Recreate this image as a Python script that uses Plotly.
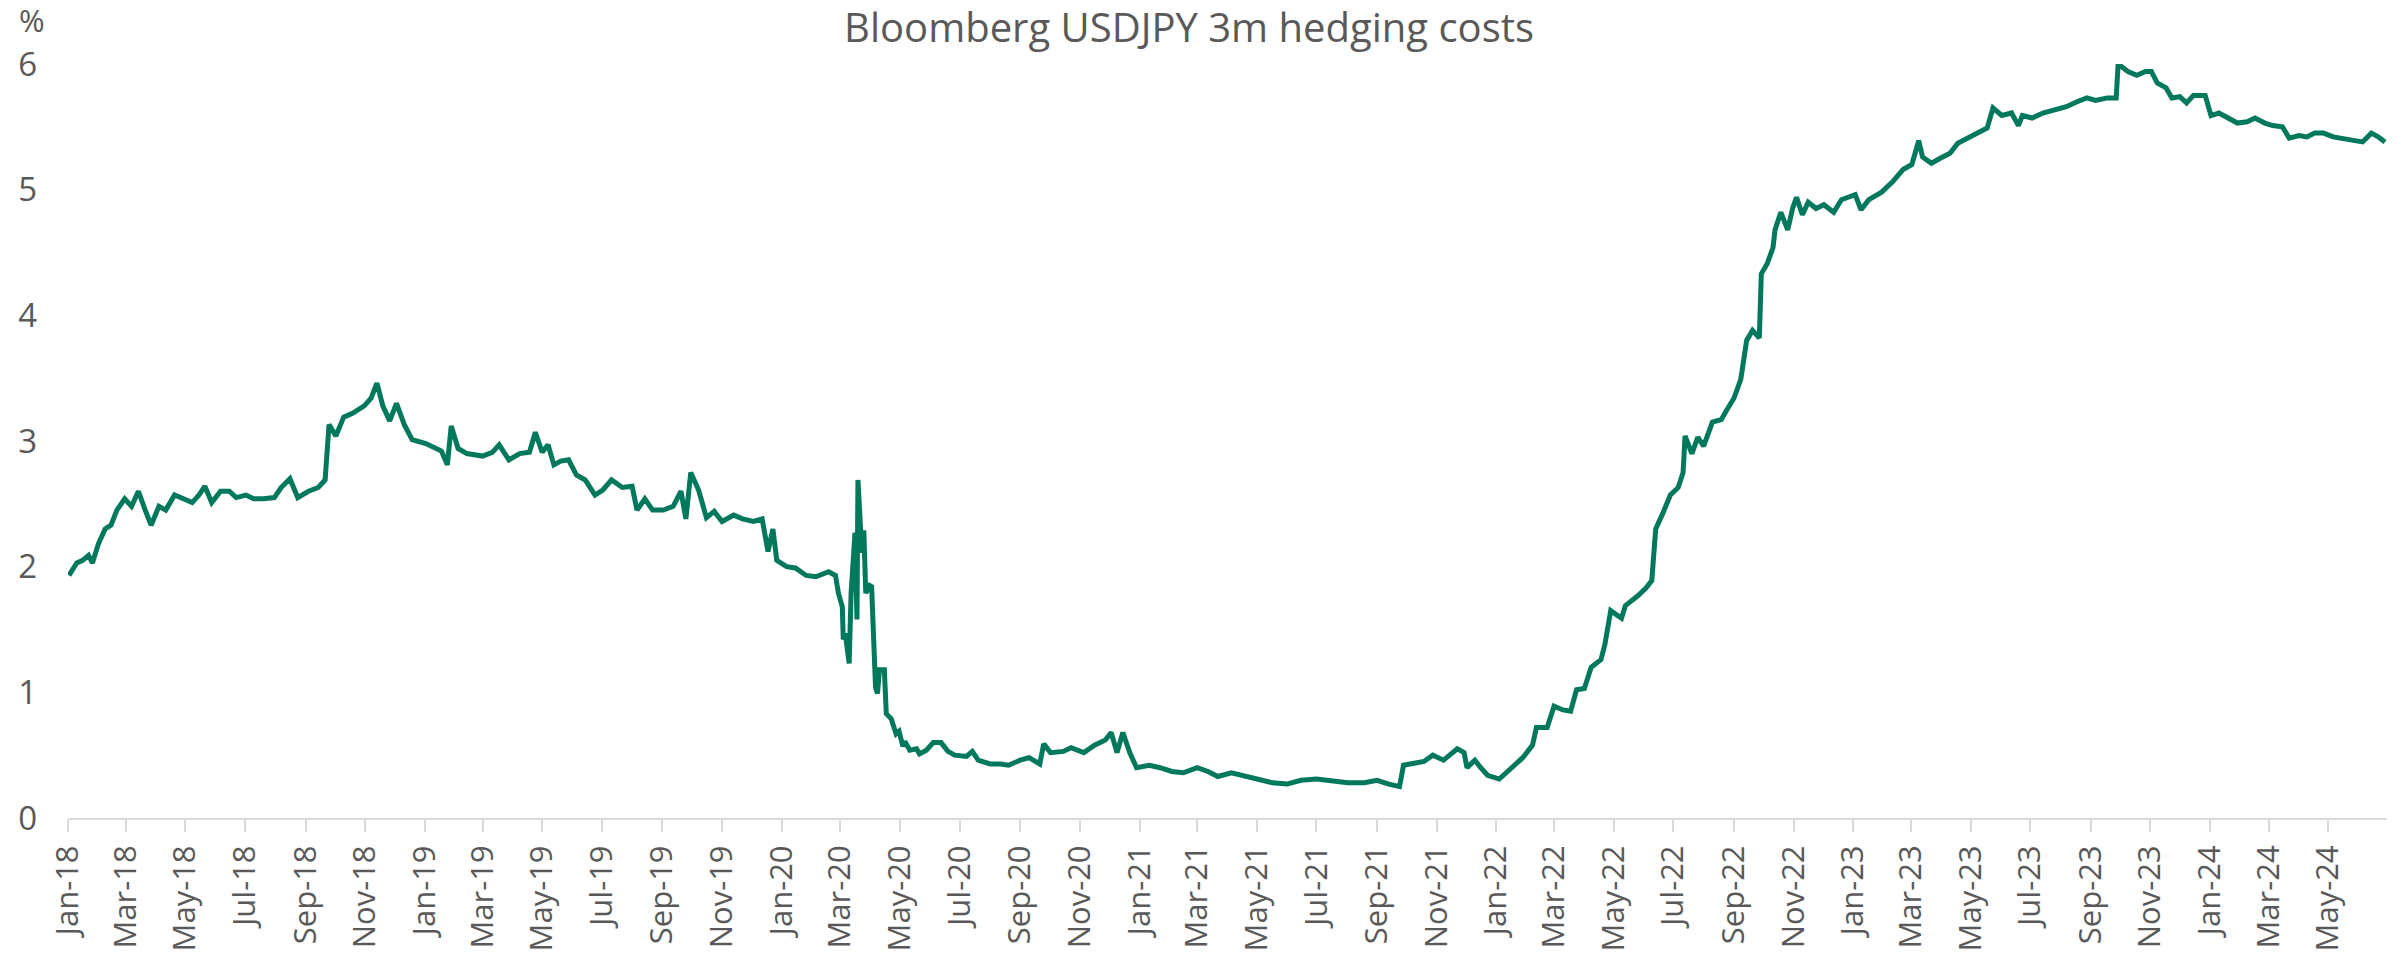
import plotly.graph_objects as go

dates = [
    # 2018
    "2018-01-02","2018-01-05","2018-01-10","2018-01-16","2018-01-22","2018-01-26","2018-02-01","2018-02-08",
    "2018-02-14","2018-02-20","2018-02-28","2018-03-07","2018-03-14","2018-03-21","2018-03-27","2018-04-04",
    "2018-04-11","2018-04-20","2018-04-30","2018-05-08","2018-05-15","2018-05-21","2018-05-28","2018-06-06",
    "2018-06-15","2018-06-22","2018-07-02","2018-07-10","2018-07-20","2018-07-31","2018-08-07","2018-08-16",
    "2018-08-24","2018-09-04","2018-09-14","2018-09-21","2018-09-25","2018-10-02","2018-10-10","2018-10-19",
    "2018-10-31","2018-11-07","2018-11-13","2018-11-19","2018-11-26","2018-12-03","2018-12-11","2018-12-19",
    # 2019
    "2019-01-02","2019-01-09","2019-01-18","2019-01-24","2019-01-28","2019-02-04","2019-02-13","2019-03-01",
    "2019-03-11","2019-03-18","2019-03-28","2019-04-08","2019-04-18","2019-04-24","2019-05-01","2019-05-07",
    "2019-05-13","2019-05-20","2019-05-28","2019-06-05","2019-06-14","2019-06-24","2019-07-02","2019-07-11",
    "2019-07-22","2019-08-01","2019-08-06","2019-08-14","2019-08-22","2019-09-02","2019-09-12","2019-09-20",
    "2019-09-25","2019-09-30","2019-10-08","2019-10-16","2019-10-24","2019-11-01","2019-11-13","2019-11-22",
    "2019-12-03","2019-12-12","2019-12-18","2019-12-23","2019-12-27",
    # 2020
    "2020-01-06","2020-01-15","2020-01-26","2020-02-05","2020-02-18","2020-02-25","2020-02-28","2020-03-03",
    "2020-03-04","2020-03-06","2020-03-10","2020-03-12","2020-03-16","2020-03-18","2020-03-19","2020-03-23",
    "2020-03-25","2020-03-27","2020-03-31","2020-04-02","2020-04-06","2020-04-08","2020-04-10","2020-04-15",
    "2020-04-17","2020-04-22","2020-04-27","2020-04-30","2020-05-04","2020-05-06","2020-05-11","2020-05-18",
    "2020-05-21","2020-05-28","2020-06-04","2020-06-12","2020-06-19","2020-06-26","2020-07-08","2020-07-14",
    "2020-07-20","2020-08-01","2020-08-12","2020-08-20","2020-09-01","2020-09-10","2020-09-21","2020-09-25",
    "2020-10-02","2020-10-15","2020-10-23","2020-11-05","2020-11-16","2020-11-27","2020-12-03","2020-12-09",
    "2020-12-15","2020-12-22","2020-12-29",
    # 2021
    "2021-01-11","2021-01-22","2021-02-03","2021-02-15","2021-03-01","2021-03-12","2021-03-22","2021-04-05",
    "2021-04-16","2021-05-03","2021-05-17","2021-06-01","2021-06-15","2021-07-01","2021-07-15","2021-08-02",
    "2021-08-19","2021-09-01","2021-09-13","2021-09-24","2021-09-28","2021-10-07","2021-10-19","2021-10-28",
    "2021-11-08","2021-11-22","2021-11-29","2021-12-02","2021-12-10","2021-12-16","2021-12-23",
    # 2022
    "2022-01-04","2022-01-12","2022-01-20","2022-01-28","2022-02-07","2022-02-11","2022-02-22","2022-03-01",
    "2022-03-10","2022-03-18","2022-03-24","2022-04-01","2022-04-08","2022-04-18","2022-04-22","2022-04-28",
    "2022-05-09","2022-05-13","2022-05-26","2022-06-03","2022-06-09","2022-06-13","2022-06-20","2022-06-28",
    "2022-07-06","2022-07-11","2022-07-13","2022-07-20","2022-07-26","2022-08-01","2022-08-10","2022-08-19",
    "2022-08-25","2022-09-01","2022-09-08","2022-09-14","2022-09-20","2022-09-27","2022-09-29","2022-10-05",
    "2022-10-11","2022-10-13","2022-10-19","2022-10-26","2022-10-31","2022-11-04","2022-11-10","2022-11-16",
    "2022-11-24","2022-12-02","2022-12-12","2022-12-20",
    # 2023
    "2023-01-03","2023-01-09","2023-01-17","2023-01-30","2023-02-10","2023-02-21","2023-03-02","2023-03-09",
    "2023-03-13","2023-03-22","2023-03-31","2023-04-10","2023-04-18","2023-05-01","2023-05-10","2023-05-18",
    "2023-05-24","2023-06-02","2023-06-12","2023-06-19","2023-06-23","2023-07-03","2023-07-14","2023-07-26",
    "2023-08-07","2023-08-18","2023-08-28","2023-09-06","2023-09-18","2023-09-27","2023-09-29","2023-10-09",
    "2023-10-18","2023-10-27","2023-11-02","2023-11-08","2023-11-17","2023-11-23","2023-12-01","2023-12-08",
    "2023-12-15","2023-12-27",
    # 2024
    "2024-01-02","2024-01-10","2024-01-19","2024-01-29","2024-02-08","2024-02-16","2024-02-26","2024-03-05",
    "2024-03-15","2024-03-22","2024-04-01","2024-04-09","2024-04-17","2024-04-26","2024-05-06","2024-05-16",
    "2024-05-28","2024-06-05","2024-06-14","2024-06-21","2024-06-28",
]

hedging_cost = [
    # 2018
    1.93, 1.97, 2.03, 2.05, 2.09, 2.03, 2.18, 2.30,
    2.33, 2.45, 2.54, 2.48, 2.60, 2.45, 2.33, 2.48,
    2.45, 2.57, 2.54, 2.51, 2.57, 2.64, 2.51, 2.60,
    2.60, 2.55, 2.57, 2.54, 2.54, 2.55, 2.63, 2.70,
    2.55, 2.60, 2.63, 2.69, 3.13, 3.04, 3.19, 3.22,
    3.28, 3.34, 3.46, 3.28, 3.16, 3.30, 3.13, 3.01,
    # 2019
    2.98, 2.95, 2.92, 2.81, 3.12, 2.94, 2.90, 2.88,
    2.91, 2.97, 2.85, 2.90, 2.91, 3.07, 2.91, 2.97,
    2.81, 2.84, 2.85, 2.73, 2.69, 2.57, 2.61, 2.69,
    2.63, 2.64, 2.45, 2.54, 2.45, 2.45, 2.48, 2.60,
    2.38, 2.75, 2.61, 2.39, 2.44, 2.36, 2.41, 2.38,
    2.36, 2.38, 2.12, 2.30, 2.05,
    # 2020
    2.00, 1.99, 1.93, 1.92, 1.96, 1.93, 1.79, 1.68,
    1.42, 1.47, 1.23, 1.79, 2.27, 1.58, 2.69, 2.11,
    2.29, 1.79, 1.85, 1.84, 1.04, 0.99, 1.18, 1.18,
    0.83, 0.79, 0.67, 0.69, 0.57, 0.61, 0.54, 0.55,
    0.51, 0.54, 0.60, 0.60, 0.53, 0.50, 0.49, 0.53,
    0.46, 0.43, 0.43, 0.42, 0.46, 0.48, 0.43, 0.59,
    0.52, 0.53, 0.56, 0.52, 0.58, 0.62, 0.68, 0.52,
    0.68, 0.52, 0.40,
    # 2021
    0.42, 0.40, 0.37, 0.36, 0.40, 0.37, 0.33, 0.36,
    0.34, 0.30, 0.28, 0.27, 0.30, 0.31, 0.30, 0.28,
    0.28, 0.30, 0.27, 0.25, 0.42, 0.43, 0.45, 0.50,
    0.46, 0.55, 0.52, 0.40, 0.46, 0.40, 0.34,
    # 2022
    0.31, 0.37, 0.42, 0.48, 0.58, 0.72, 0.72, 0.89,
    0.86, 0.85, 1.02, 1.03, 1.20, 1.26, 1.38, 1.65,
    1.59, 1.69, 1.77, 1.83, 1.89, 2.30, 2.42, 2.57,
    2.63, 2.75, 3.04, 2.90, 3.03, 2.96, 3.15, 3.17,
    3.25, 3.34, 3.49, 3.80, 3.88, 3.82, 4.33, 4.41,
    4.54, 4.68, 4.82, 4.68, 4.85, 4.94, 4.80, 4.90,
    4.85, 4.88, 4.82, 4.92,
    # 2023
    4.96, 4.84, 4.92, 4.98, 5.06, 5.16, 5.20, 5.39,
    5.26, 5.21, 5.25, 5.29, 5.37, 5.42, 5.46, 5.49,
    5.65, 5.59, 5.61, 5.51, 5.59, 5.57, 5.61, 5.63,
    5.66, 5.70, 5.73, 5.71, 5.73, 5.73, 6.00, 5.94,
    5.91, 5.94, 5.94, 5.85, 5.81, 5.73, 5.74, 5.69,
    5.75, 5.75,
    # 2024
    5.59, 5.61, 5.57, 5.53, 5.54, 5.57, 5.53, 5.51,
    5.50, 5.41, 5.43, 5.42, 5.45, 5.45, 5.42, 5.41,
    5.39, 5.38, 5.45, 5.42, 5.38,
]

tick_dates = []
for yr in range(2018, 2025):
    for m in (1, 3, 5, 7, 9, 11):
        d = f"{yr}-{m:02d}-01"
        if d <= "2024-05-01":
            tick_dates.append(d)

y_ticks = [0, 1, 2, 3, 4, 5, 6]

TITLE = "Bloomberg USDJPY 3m hedging costs"
Y_UNIT = "%"

TEXT = "#595959"
LINE = "#00785C"
FONT = "Open Sans"

fig = go.Figure()
fig.add_trace(go.Scatter(
    x=dates, y=hedging_cost, mode="lines",
    line=dict(color=LINE, width=5),
    showlegend=False, hoverinfo="x+y",
))

fig.update_layout(
    width=2407, height=966,
    margin=dict(l=68, r=20, t=64, b=148, autoexpand=False),
    paper_bgcolor="white", plot_bgcolor="white",
    font=dict(family=FONT, color=TEXT, size=32),
    title=dict(text=TITLE, x=0.494, xref="container", xanchor="center",
               y=1 - 28 / 966, yref="container", yanchor="middle",
               font=dict(family=FONT, size=40, color=TEXT)),
)

fig.update_xaxes(
    type="date", range=["2018-01-01", "2024-06-30"],
    tickvals=tick_dates, tickformat="%b-%y", tickangle=-90,
    showgrid=False, zeroline=False, automargin=False,
    showline=True, linecolor="#D9D9D9", linewidth=2,
    ticks="outside", ticklen=12, tickwidth=2, tickcolor="#D9D9D9",
    ticklabelstandoff=1,
    tickfont=dict(family=FONT, size=31, color=TEXT),
)
fig.update_yaxes(
    range=[0, 6], tickvals=y_ticks, automargin=False,
    showgrid=False, zeroline=False, showline=False,
    ticks="", ticklabelstandoff=30,
    tickfont=dict(family=FONT, size=33, color=TEXT),
)

fig.add_annotation(
    text=Y_UNIT, xref="paper", yref="paper",
    x=(32 - 68) / 2319, y=(818 - 20) / 754,
    xanchor="center", yanchor="middle", showarrow=False,
    font=dict(family=FONT, size=31, color=TEXT),
)

fig.write_html(
    "out.html",
    config={"displayModeBar": False},
    post_script="document.body.style.margin='0';document.body.style.overflow='hidden';",
)
